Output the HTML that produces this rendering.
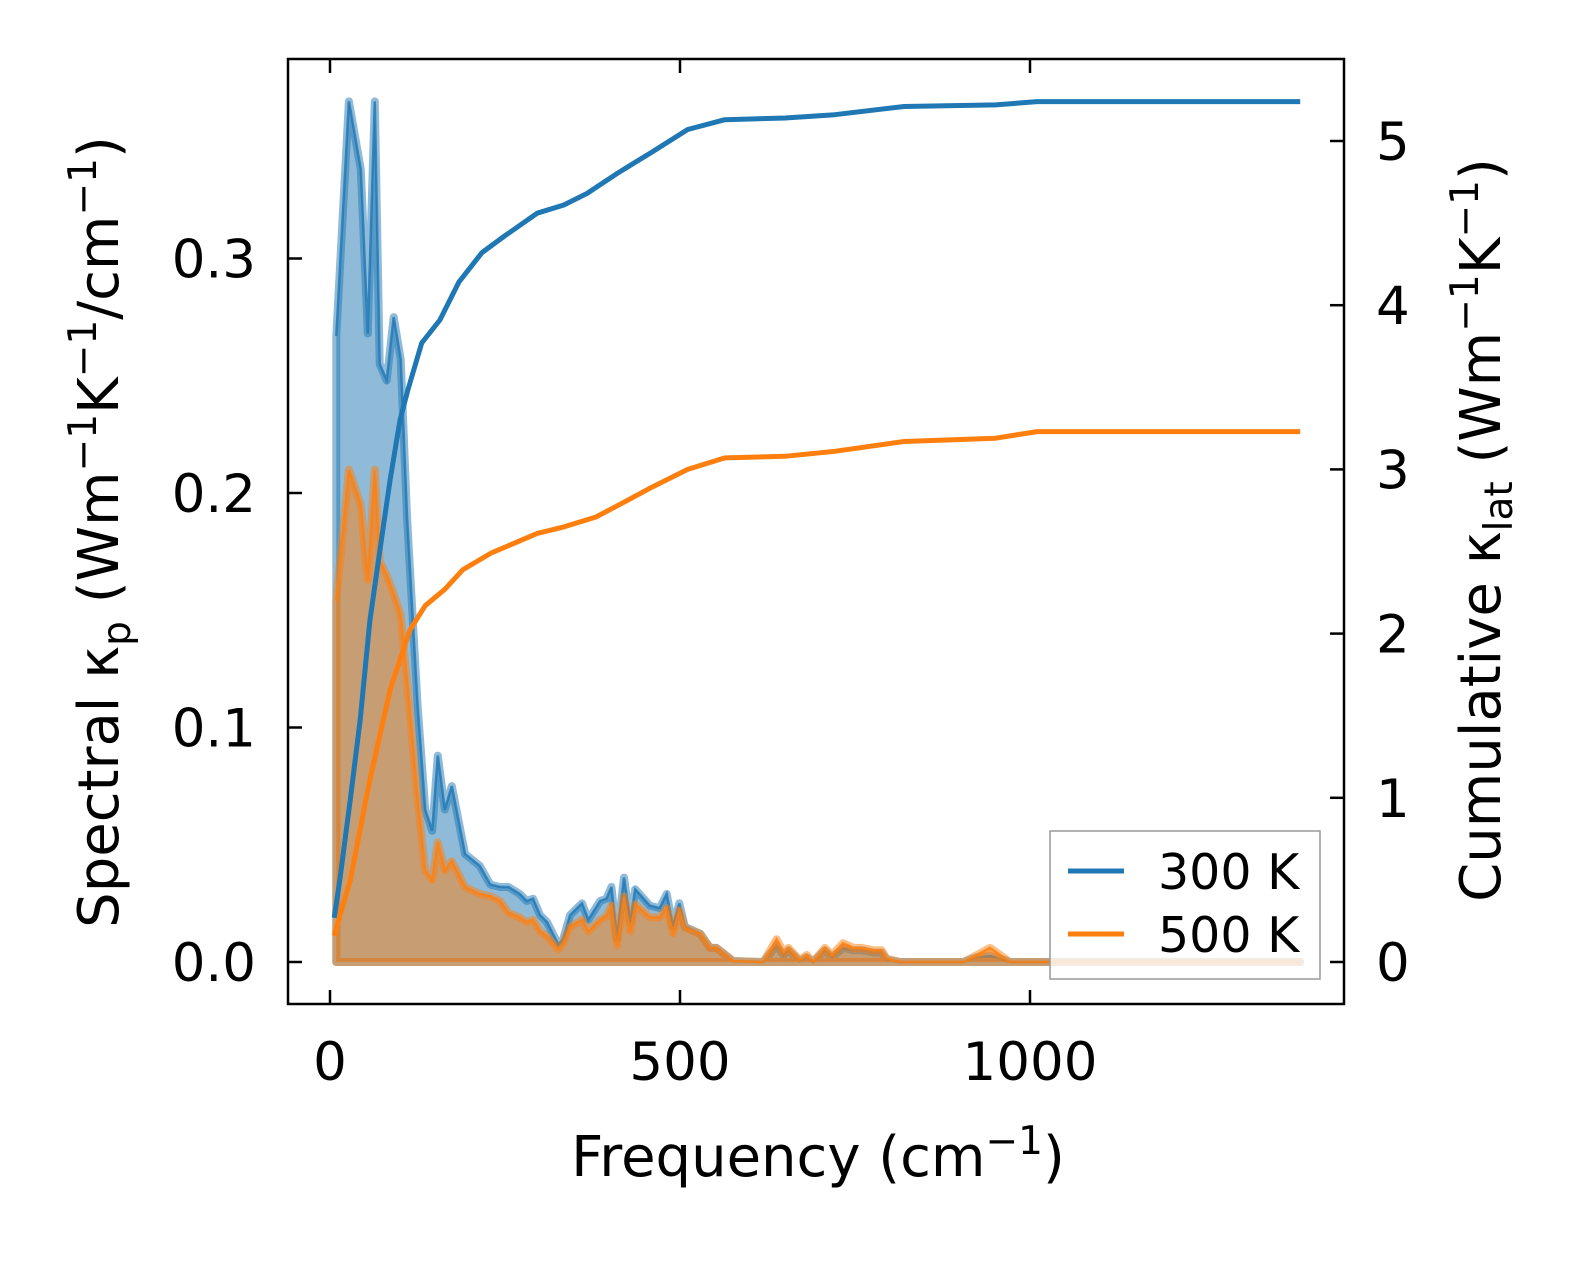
<!DOCTYPE html>
<html><head><meta charset="utf-8"><style>
html,body{margin:0;padding:0;background:#fff;}
svg{display:block;font-family:"DejaVu Sans","Liberation Sans",sans-serif;}
</style></head><body>
<svg id="chart" width="1586" height="1264" viewBox="0 0 1586 1264" xmlns="http://www.w3.org/2000/svg" style="position:absolute;left:0;top:0"></svg>
<script>
const freq300 = [9,27,44,54,64,71,81,91,101,110,125,136,146,154,164,174,193,214,229,243,255,271,281,290,300,310,326,333,343,360,369,386,395,402,410,420,429,436,457,471,481,490,499,507,529,543,552,576,619,638,648,655,671,681,690,707,717,733,748,760,776,788,795,814,905,924,943,962,971,1386];
const spec300 = [0.267,0.367,0.338,0.268,0.367,0.255,0.248,0.275,0.257,0.19,0.11,0.065,0.056,0.088,0.065,0.075,0.046,0.041,0.033,0.032,0.032,0.029,0.026,0.027,0.020,0.017,0.0075,0.0097,0.020,0.025,0.018,0.026,0.027,0.032,0.010,0.036,0.017,0.031,0.024,0.023,0.029,0.015,0.025,0.015,0.012,0.006,0.006,0.0004,0,0.007,0.003,0.005,0.0004,0.002,0,0.005,0.002,0.006,0.005,0.005,0.004,0.004,0.001,0,0,0.002,0.0026,0.001,0,0];
const spec500 = [0.154,0.21,0.195,0.163,0.21,0.171,0.165,0.157,0.148,0.12,0.07,0.039,0.035,0.051,0.039,0.043,0.032,0.029,0.028,0.026,0.021,0.019,0.017,0.018,0.013,0.011,0.0054,0.008,0.015,0.018,0.013,0.018,0.0196,0.024,0.007,0.028,0.013,0.0246,0.019,0.019,0.023,0.0125,0.022,0.0146,0.012,0.006,0.006,0.0004,0,0.0097,0.004,0.006,0.0008,0.003,0,0.006,0.003,0.008,0.006,0.006,0.005,0.005,0.0015,0,0,0.003,0.006,0.002,0,0];
const cumFreq300 = [6,14,29,43,57,71,86,100,111,131,157,184,217,249,296,334,367,413,459,511,564,650,721,820,951,1010,1386];
const cum300 = [0.27,0.5,0.99,1.47,2.08,2.5,2.94,3.3,3.48,3.77,3.91,4.14,4.32,4.42,4.56,4.61,4.68,4.81,4.93,5.07,5.13,5.14,5.16,5.21,5.22,5.24,5.24];
const cumFreq500 = [6,29,57,86,114,136,164,190,230,296,334,380,420,459,511,564,650,721,820,951,1010,1386];
const cum500 = [0.16,0.5,1.11,1.66,2.02,2.17,2.27,2.39,2.49,2.61,2.65,2.71,2.80,2.89,3.0,3.07,3.08,3.11,3.17,3.19,3.23,3.23];
const xTicks = [0,500,1000];
const yLeftTicks = [0.0,0.1,0.2,0.3];
const yLeftLabels = ["0.0","0.1","0.2","0.3"];
const yRightTicks = [0,1,2,3,4,5];

const NS="http://www.w3.org/2000/svg";
const svg=document.getElementById('chart');
const X=f=>330+f*0.7;
const YL=v=>962-v*2345;
const YR=v=>962-v*164.2;
function el(t,a){const e=document.createElementNS(NS,t);for(const k in a)e.setAttribute(k,a[k]);svg.appendChild(e);return e;}
const C1='#1f77b4',C2='#ff7f0e';

function spec(vals,color,name){
  let d='M'+X(freq300[0])+','+YL(0);
  freq300.forEach((f,i)=>{d+=' L'+X(f).toFixed(1)+','+YL(vals[i]).toFixed(1);});
  d+=' L'+X(freq300[freq300.length-1])+','+YL(0)+' Z';
  const a=el('path',{d:d,fill:color,'fill-opacity':0.5,stroke:color,'stroke-opacity':0.5,'stroke-width':8,'stroke-linejoin':'round'});
  
  
  let l='';freq300.forEach((f,i)=>{l+=(i?' L':'M')+X(f).toFixed(1)+','+YL(vals[i]).toFixed(1);});
  const b=el('path',{d:l,fill:'none',stroke:color,'stroke-width':2.5,'stroke-opacity':0.8});
  
  
}
spec(spec300,C1,'spectral-300k');
spec(spec500,C2,'spectral-500k');

function cum(fs,vals,color,name){
  let l='';fs.forEach((f,i)=>{l+=(i?' L':'M')+X(f).toFixed(1)+','+YR(vals[i]).toFixed(1);});
  const b=el('path',{d:l,fill:'none',stroke:color,'stroke-width':5,'stroke-linejoin':'round'});
  
  
}
cum(cumFreq300,cum300,C1,'cumulative-300k');
cum(cumFreq500,cum500,C2,'cumulative-500k');

const fr=el('rect',{x:288,y:59,width:1056,height:945,fill:'none',stroke:'#000','stroke-width':2.5});



xTicks.forEach(t=>{
  const x=X(t);
  el('line',{x1:x,y1:1004,x2:x,y2:990,stroke:'#000','stroke-width':2.5});
  el('line',{x1:x,y1:59,x2:x,y2:73,stroke:'#000','stroke-width':2.5});
  const tx=el('text',{x:x,y:1080,'font-size':53,'text-anchor':'middle'});tx.textContent=t;
  
  
});
yLeftTicks.forEach((t,i)=>{
  const y=YL(t);
  el('line',{x1:288,y1:y,x2:302,y2:y,stroke:'#000','stroke-width':2.5});
  const tx=el('text',{x:256,y:y+19,'font-size':53,'text-anchor':'end'});tx.textContent=yLeftLabels[i];
  
  
});
yRightTicks.forEach(t=>{
  const y=YR(t);
  el('line',{x1:1330,y1:y,x2:1344,y2:y,stroke:'#000','stroke-width':2.5});
  const tx=el('text',{x:1376,y:y+19,'font-size':53});tx.textContent=t;
  
  
});
</script>
<svg style="position:absolute;left:0;top:0" width="1586" height="1264">
  <text x="818" y="1176" font-size="56" text-anchor="middle" font-family="DejaVu Sans, Liberation Sans, sans-serif">Frequency (cm<tspan dy="-22" font-size="39">−1</tspan><tspan dy="22">)</tspan></text>
  <text transform="translate(118,532) rotate(-90)" font-size="56" text-anchor="middle" font-family="DejaVu Sans, Liberation Sans, sans-serif">Spectral κ<tspan dy="12" font-size="39">p</tspan><tspan dy="-12"> (Wm</tspan><tspan dy="-22" font-size="39">−1</tspan><tspan dy="22">K</tspan><tspan dy="-22" font-size="39">−1</tspan><tspan dy="22">/cm</tspan><tspan dy="-22" font-size="39">−1</tspan><tspan dy="22">)</tspan></text>
  <text transform="translate(1500,530) rotate(-90)" font-size="56" text-anchor="middle" font-family="DejaVu Sans, Liberation Sans, sans-serif">Cumulative κ<tspan dy="12" font-size="39">lat</tspan><tspan dy="-12"> (Wm</tspan><tspan dy="-22" font-size="39">−1</tspan><tspan dy="22">K</tspan><tspan dy="-22" font-size="39">−1</tspan><tspan dy="22">)</tspan></text>
  <g>
    <rect x="1050" y="831" width="270" height="148" fill="#fff" fill-opacity="0.8" stroke="#999" stroke-width="1.5"/>
    <line x1="1068" y1="871" x2="1124" y2="871" stroke="#1f77b4" stroke-width="5"/>
    <text x="1158" y="889" font-size="49" font-family="DejaVu Sans, Liberation Sans, sans-serif">300 K</text>
    <line x1="1068" y1="934" x2="1124" y2="934" stroke="#ff7f0e" stroke-width="5"/>
    <text x="1158" y="952" font-size="49" font-family="DejaVu Sans, Liberation Sans, sans-serif">500 K</text>
  </g>
</svg>
</body></html>
